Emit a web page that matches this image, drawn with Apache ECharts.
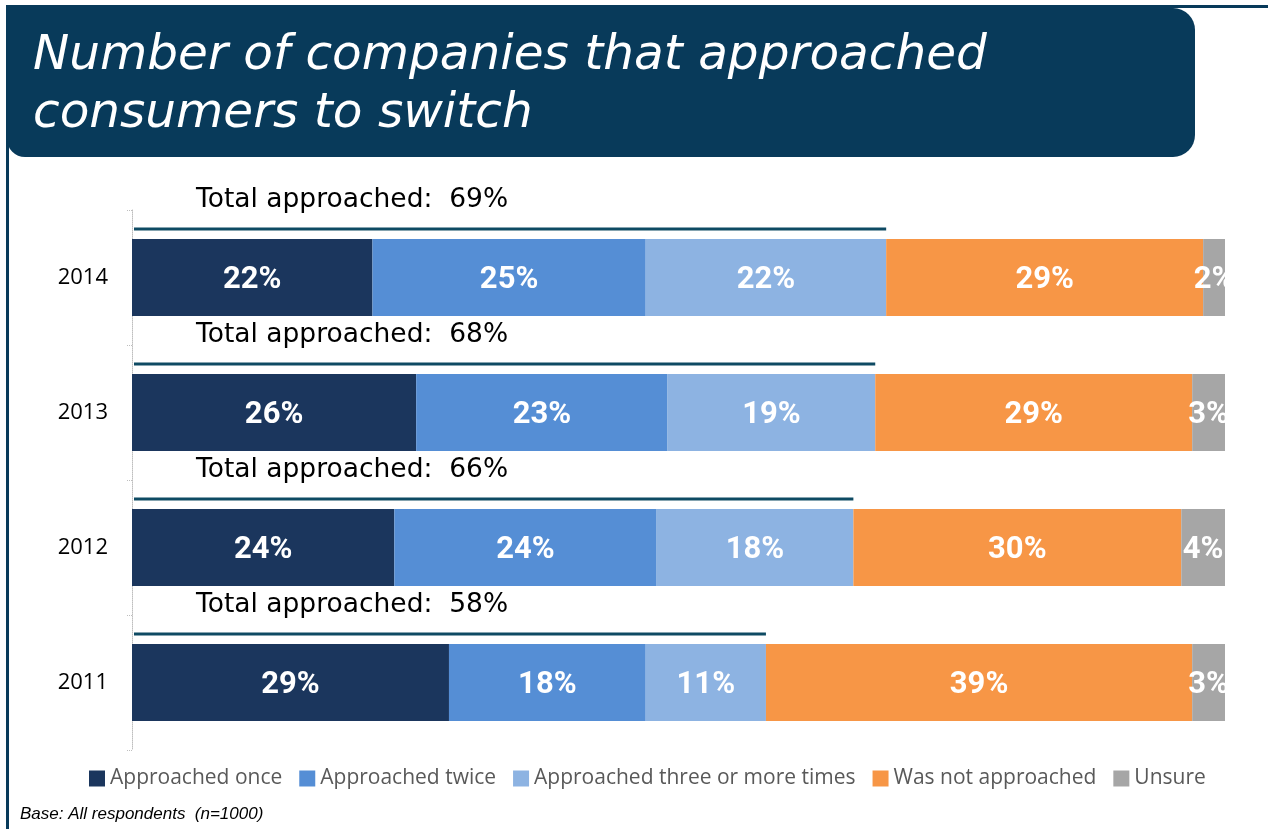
<!DOCTYPE html>
<html>
<head>
<meta charset="utf-8">
<script src="https://cdn.jsdelivr.net/npm/echarts@6/dist/echarts.min.js"></script>
<style>
  html, body { margin: 0; padding: 0; background: #ffffff; }
  #chart { width: 1268px; height: 829px; }
</style>
</head>
<body>
<div id="chart"></div>
<script>
// Survey years, top to bottom
const years = ['2014', '2013', '2012', '2011'];

// Share of respondents (%) per answer, in the same order as years
const approachedOnce  = [22, 26, 24, 29];
const approachedTwice = [25, 23, 24, 18];
const approachedThree = [22, 19, 18, 11];
const notApproached   = [29, 29, 30, 39];
const unsure          = [2, 3, 4, 3];

// "Total approached" figures shown above each bar
const totalApproached = [69, 68, 66, 58];

const seriesNames = [
  'Approached once',
  'Approached twice',
  'Approached three or more times',
  'Was not approached',
  'Unsure'
];

const colors = ['#1b365d', '#558ed5', '#8db3e2', '#f79646', '#a6a6a6'];
const navy = '#083a5a';
const totalLineColor = '#0e4a63';

const valueLabel = {
  show: true,
  position: 'inside',
  offset: [0, 3],
  formatter: '{c}%',
  color: '#ffffff',
  fontFamily: 'Roboto',
  fontWeight: 'bold',
  fontSize: 31
};

function barSeries(name, values, color, showLabel) {
  return {
    name: name,
    type: 'bar',
    stack: 'share',
    barCategoryGap: '43%',
    data: values,
    itemStyle: { color: color },
    label: showLabel ? valueLabel : { show: false },
    emphasis: { disabled: true }
  };
}

// Position where the "Unsure" segment starts on each bar
const unsureStart = years.map((y, i) =>
  approachedOnce[i] + approachedTwice[i] + approachedThree[i] + notApproached[i]);

const chart = echarts.init(document.getElementById('chart'), null, { renderer: 'canvas' });

chart.setOption({
  animation: false,
  title: {
    text: 'Number of companies that approached\nconsumers to switch',
    left: 33,
    top: 27,
    padding: 0,
    textStyle: {
      color: '#ffffff',
      fontFamily: 'DejaVu Sans',
      fontStyle: 'italic',
      fontWeight: 200,
      fontSize: 48.5,
      lineHeight: 58
    }
  },
  graphic: [
    { type: 'rect', z: -1, shape: { x: 7, y: 5, width: 1261, height: 3 }, style: { fill: navy } },
    { type: 'rect', z: -1, shape: { x: 6, y: 5, width: 3, height: 824 }, style: { fill: navy } },
    { type: 'rect', z: -1, shape: { x: 7, y: 8, width: 1188, height: 149, r: [0, 22, 22, 18] }, style: { fill: navy } },
    {
      type: 'text',
      left: 20,
      top: 806,
      style: {
        text: 'Base: All respondents  (n=1000)',
        fill: '#000000',
        font: 'italic 17px "Liberation Sans", Arial, sans-serif'
      }
    }
  ],
  legend: {
    data: seriesNames,
    left: 89,
    top: 768,
    padding: 0,
    icon: 'rect',
    itemWidth: 16,
    itemHeight: 16,
    itemGap: 17,
    selectedMode: false,
    textStyle: {
      color: '#595959',
      fontFamily: 'Open Sans',
      fontSize: 21
    }
  },
  grid: {
    left: 132,
    right: 43,
    top: 210,
    bottom: 79,
    containLabel: false
  },
  xAxis: {
    type: 'value',
    min: 0,
    max: 100,
    show: false
  },
  yAxis: {
    type: 'category',
    data: years,
    inverse: true,
    axisLine: { show: true, lineStyle: { color: '#bfbfbf', type: 'dotted', width: 1 } },
    axisTick: { show: true, length: 5, lineStyle: { color: '#bfbfbf', type: 'dotted', width: 1 } },
    axisLabel: {
      margin: 24,
      color: '#000000',
      fontFamily: 'Open Sans',
      fontSize: 22
    },
    splitLine: { show: false }
  },
  series: [
    barSeries(seriesNames[0], approachedOnce, colors[0], true),
    barSeries(seriesNames[1], approachedTwice, colors[1], true),
    barSeries(seriesNames[2], approachedThree, colors[2], true),
    barSeries(seriesNames[3], notApproached, colors[3], true),
    barSeries(seriesNames[4], unsure, colors[4], false),
    {
      // "Unsure" value labels, clipped at the end of the plot area
      type: 'custom',
      clip: true,
      silent: true,
      z: 5,
      data: years.map((y, i) => [unsureStart[i], unsure[i], i]),
      encode: { x: 0, y: 2 },
      renderItem: function (params, api) {
        const start = api.value(0);
        const size = api.value(1);
        const idx = api.value(2);
        const p = api.coord([start + size / 2, idx]);
        return {
          type: 'text',
          style: {
            x: p[0],
            y: p[1] + 3,
            text: size + '%',
            fill: '#ffffff',
            font: 'bold 31px Roboto',
            align: 'center',
            verticalAlign: 'middle'
          }
        };
      }
    },
    {
      // "Total approached" rule and caption above each bar
      type: 'custom',
      clip: false,
      silent: true,
      z: 5,
      data: years.map((y, i) => [totalApproached[i], i]),
      encode: { x: 0, y: 1 },
      renderItem: function (params, api) {
        const total = api.value(0);
        const idx = api.value(1);
        const start = api.coord([0, idx]);
        const end = api.coord([total, idx]);
        const band = api.size([0, 1])[1];
        const lineY = start[1] - band * 0.36;
        const textY = start[1] - band * 0.575;
        return {
          type: 'group',
          children: [
            {
              type: 'line',
              shape: { x1: start[0] + 2, y1: lineY, x2: end[0], y2: lineY },
              style: { stroke: totalLineColor, lineWidth: 3 }
            },
            {
              type: 'text',
              style: {
                x: start[0] + 64,
                y: textY,
                text: 'Total approached:  ' + total + '%',
                fill: '#000000',
                font: '26.5px "DejaVu Sans"',
                align: 'left',
                verticalAlign: 'middle'
              }
            }
          ]
        };
      }
    }
  ]
});
</script>
</body>
</html>
